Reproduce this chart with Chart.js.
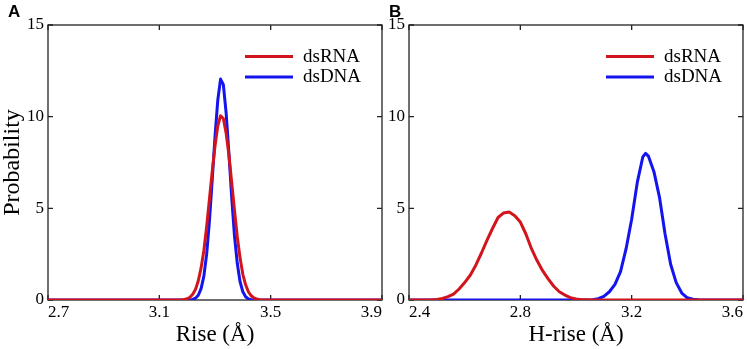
<!DOCTYPE html>
<html>
<head>
<meta charset="utf-8">
<script src="https://cdn.jsdelivr.net/npm/chart.js@4/dist/chart.umd.min.js"></script>
<style>
  html, body { margin: 0; padding: 0; background: #fff; }
  #wrap { position: relative; width: 747px; height: 349px; overflow: hidden; }
  canvas { position: absolute; left: 0; top: 0; }
</style>
</head>
<body>
<div id="wrap">
  <canvas id="cA" width="747" height="349"></canvas>
  <canvas id="cB" width="747" height="349"></canvas>
</div>
<script>
// ---------- DATA ----------
const seriesLabels = ['dsRNA', 'dsDNA'];
const yTicks = [0, 5, 10, 15];

// Panel A: Rise (Å)
const riseTicks = [2.7, 3.1, 3.5, 3.9];
const riseRNA_x = [2.70, 3.17, 3.18, 3.19, 3.20, 3.21, 3.22, 3.23, 3.24, 3.25, 3.26, 3.27, 3.28, 3.29, 3.30, 3.31, 3.32, 3.33, 3.34, 3.35, 3.36, 3.37, 3.38, 3.39, 3.40, 3.41, 3.42, 3.43, 3.44, 3.45, 3.46, 3.47, 3.90];
const riseRNA_y = [0, 0, 0.01, 0.03, 0.07, 0.15, 0.31, 0.58, 1.05, 1.75, 2.7, 4.0, 5.5, 7.0, 8.4, 9.5, 10.05, 9.9, 9.1, 7.9, 6.4, 4.9, 3.45, 2.3, 1.4, 0.83, 0.45, 0.23, 0.11, 0.05, 0.02, 0, 0];
const riseDNA_x = [2.70, 3.21, 3.22, 3.23, 3.24, 3.25, 3.26, 3.27, 3.28, 3.29, 3.30, 3.31, 3.32, 3.33, 3.34, 3.35, 3.36, 3.37, 3.38, 3.39, 3.40, 3.41, 3.42, 3.43, 3.44, 3.90];
const riseDNA_y = [0, 0, 0.03, 0.1, 0.26, 0.62, 1.3, 2.5, 4.3, 6.55, 8.9, 10.9, 12.05, 11.75, 10.2, 8.0, 5.6, 3.5, 2.0, 1.0, 0.45, 0.18, 0.06, 0.02, 0, 0];

// Panel B: H-rise (Å)
const hriseTicks = [2.4, 2.8, 3.2, 3.6];
const hriseRNA_x = [2.40, 2.46, 2.48, 2.50, 2.52, 2.54, 2.56, 2.58, 2.60, 2.62, 2.64, 2.66, 2.68, 2.70, 2.72, 2.74, 2.76, 2.78, 2.80, 2.82, 2.84, 2.86, 2.88, 2.90, 2.92, 2.94, 2.96, 2.98, 3.00, 3.02, 3.04, 3.06, 3.60];
const hriseRNA_y = [0, 0, 0.01, 0.03, 0.08, 0.18, 0.32, 0.6, 0.95, 1.35, 1.9, 2.55, 3.25, 3.9, 4.5, 4.75, 4.8, 4.6, 4.25, 3.6, 2.8, 2.15, 1.6, 1.15, 0.75, 0.45, 0.27, 0.13, 0.06, 0.02, 0.01, 0, 0];
const hriseDNA_x = [2.40, 3.04, 3.06, 3.08, 3.10, 3.12, 3.14, 3.16, 3.18, 3.20, 3.22, 3.24, 3.25, 3.26, 3.28, 3.30, 3.32, 3.34, 3.36, 3.38, 3.40, 3.42, 3.44, 3.60];
const hriseDNA_y = [0, 0, 0.02, 0.07, 0.2, 0.45, 0.85, 1.55, 2.8, 4.4, 6.4, 7.8, 8.0, 7.85, 7.0, 5.6, 3.6, 1.95, 0.95, 0.38, 0.12, 0.04, 0.01, 0];

// ---------- STYLE ----------
const RED = '#d2151c';
const BLUE = '#1414ee';
const FRAME = '#222222';
const SERIF = '"Liberation Serif", "Times New Roman", serif';
Chart.defaults.font.family = SERIF;

function pts(xs, ys) { return xs.map((x, i) => ({ x: x, y: ys[i] })); }

const framePlugin = {
  id: 'frame',
  beforeDatasetsDraw(chart) {
    const { ctx, chartArea: a, scales } = chart;
    ctx.save();
    ctx.strokeStyle = FRAME;
    ctx.lineWidth = 1.3;
    ctx.strokeRect(a.left, a.top, a.right - a.left, a.bottom - a.top);
    const tl = 5;
    ctx.beginPath();
    scales.x.ticks.forEach(t => {
      const px = scales.x.getPixelForValue(t.value);
      ctx.moveTo(px, a.bottom); ctx.lineTo(px, a.bottom - tl);
      ctx.moveTo(px, a.top); ctx.lineTo(px, a.top + tl);
    });
    scales.y.ticks.forEach(t => {
      const py = scales.y.getPixelForValue(t.value);
      ctx.moveTo(a.left, py); ctx.lineTo(a.left + tl, py);
      ctx.moveTo(a.right, py); ctx.lineTo(a.right - tl, py);
    });
    ctx.stroke();
    ctx.restore();
  },
  afterDraw(chart, args, opts) {
    const { ctx, chartArea: a } = chart;
    ctx.save();
    // legend
    chart.data.datasets.forEach((ds, i) => {
      const y = a.top + 31.5 + i * 20.5;
      ctx.strokeStyle = ds.borderColor;
      ctx.lineWidth = 3;
      ctx.beginPath();
      ctx.moveTo(a.right - 137, y);
      ctx.lineTo(a.right - 89, y);
      ctx.stroke();
      ctx.fillStyle = '#000';
      ctx.font = '19px ' + SERIF;
      ctx.textAlign = 'left';
      ctx.textBaseline = 'middle';
      ctx.fillText(ds.label, a.right - 79, y + 0.5);
    });
    // panel letter
    ctx.fillStyle = '#000';
    ctx.font = 'bold 17px "Liberation Sans", Arial, sans-serif';
    ctx.textAlign = 'left';
    ctx.textBaseline = 'alphabetic';
    ctx.fillText(opts.letter, opts.letterX, 17);
    ctx.restore();
  }
};

function makeChart(id, cfg) {
  return new Chart(document.getElementById(id), {
    type: 'line',
    data: {
      datasets: [
        { label: seriesLabels[0], data: pts(cfg.rnaX, cfg.rnaY), borderColor: RED, backgroundColor: RED },
        { label: seriesLabels[1], data: pts(cfg.dnaX, cfg.dnaY), borderColor: BLUE, backgroundColor: BLUE }
      ]
    },
    options: {
      responsive: false,
      animation: false,
      events: [],
      layout: { padding: cfg.padding },
      elements: { point: { radius: 0 }, line: { borderWidth: 3, tension: 0, borderJoinStyle: 'round', borderCapStyle: 'round' } },
      plugins: {
        legend: { display: false },
        tooltip: { enabled: false },
        frame: { letter: cfg.letter, letterX: cfg.letterX }
      },
      scales: {
        x: {
          type: 'linear',
          min: cfg.ticks[0],
          max: cfg.ticks[cfg.ticks.length - 1],
          afterBuildTicks: s => { s.ticks = cfg.ticks.map(v => ({ value: v })); },
          afterFit: s => { s.height = 49; s.paddingLeft = 0; s.paddingRight = 0; },
          ticks: {
            color: '#000', padding: 2, align: 'inner', maxRotation: 0,
            font: { family: SERIF, size: 17, lineHeight: 1.2 },
            callback: v => Number(v).toFixed(1)
          },
          grid: { display: false, drawTicks: false },
          border: { display: false },
          title: { display: true, text: cfg.xTitle, color: '#000', padding: 0, font: { family: SERIF, size: 23, lineHeight: 1.2 } }
        },
        y: {
          type: 'linear',
          min: 0, max: 15,
          afterBuildTicks: s => { s.ticks = yTicks.map(v => ({ value: v })); },
          afterFit: s => { s.width = cfg.yWidth; },
          ticks: { color: '#000', padding: 4, font: { family: SERIF, size: 17, lineHeight: 1.2 } },
          grid: { display: false, drawTicks: false },
          border: { display: false },
          title: { display: !!cfg.yTitle, text: cfg.yTitle || '', color: '#000', padding: 0, font: { family: SERIF, size: 24, lineHeight: 1.1 } }
        }
      }
    },
    plugins: [framePlugin]
  });
}

makeChart('cA', {
  rnaX: riseRNA_x, rnaY: riseRNA_y, dnaX: riseDNA_x, dnaY: riseDNA_y,
  ticks: riseTicks, xTitle: 'Rise (Å)', yTitle: 'Probability',
  yWidth: 48, padding: { left: 0, top: 25, right: 365, bottom: 0 },
  letter: 'A', letterX: 8
});
makeChart('cB', {
  rnaX: hriseRNA_x, rnaY: hriseRNA_y, dnaX: hriseDNA_x, dnaY: hriseDNA_y,
  ticks: hriseTicks, xTitle: 'H-rise (Å)', yTitle: '',
  yWidth: 30, padding: { left: 379, top: 25, right: 4, bottom: 0 },
  letter: 'B', letterX: 389
});
</script>
</body>
</html>
